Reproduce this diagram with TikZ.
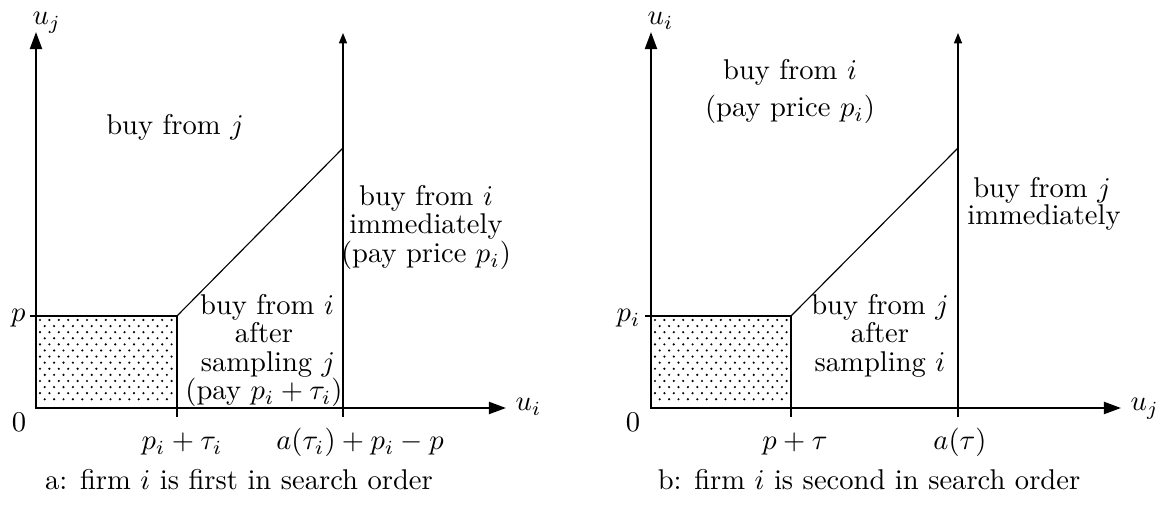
\documentclass[tikz,border=0pt]{standalone}
\usetikzlibrary{arrows.meta}
\begin{document}
\begin{tikzpicture}[x=0.35pt,y=-0.35pt,
  axis/.style={line width=0.8pt,{Triangle[length=6pt,width=4.2pt]}-{Triangle[length=6pt,width=4.2pt]}},
  lin/.style={line width=0.4pt},
  vline/.style={line width=0.4pt,-{Triangle[length=3.6pt,width=2.8pt]}},
  lbl/.style={inner sep=0pt,font=\fontsize{10}{12}\selectfont},
  dot/.style={fill=black},
]
\useasboundingbox (0,0) rectangle (1169,512);
% ---------------- panel a ----------------
\coordinate (O1) at (36,408);
\coordinate (Y1) at (36,32);
\coordinate (X1) at (506,408);
\coordinate (C1) at (177,316);
\coordinate (B1) at (177,417);
\coordinate (P1) at (30,316);
\coordinate (V1b) at (343,417);
\coordinate (V1m) at (343,148);
\coordinate (V1t) at (343,33);
\foreach \k in {0,...,6}{\foreach \c in {0,...,14}{\fill[dot] (40+9.4*\c,320+12.2*\k) circle (0.42pt);}}
\foreach \k in {0,...,6}{\foreach \c in {0,...,13}{\fill[dot] (44.7+9.4*\c,326.1+12.2*\k) circle (0.42pt);}}
\draw[lin] (P1) -- (C1) -- (B1);
\draw[lin] (C1) -- (V1m);
\draw[vline] (V1b) -- (V1t);
\draw[axis] (Y1) -- (O1) -- (X1);
\node[lbl,anchor=base west] (uj1) at (32,25) {$u_j$};
\node[lbl,anchor=base west] (ui1) at (515,411) {$u_i$};
\node[lbl,anchor=base east] (p1) at (26,322) {$p$};
\node[lbl,anchor=base] (z1) at (19,432) {$0$};
\node[lbl,anchor=base] (t1) at (182,450) {$p_i+\tau_i$};
\node[lbl,anchor=base] (t2) at (360,450) {$a(\tau_i)+p_i-p$};
\node[lbl,anchor=base] (cap1) at (239,490) {a: firm $i$ is first in search order};
\node[lbl,anchor=base] (a1) at (175,135) {buy from $j$};
\node[lbl,anchor=base] (b1) at (426,206) {buy from $i$};
\node[lbl,anchor=base] (b2) at (426,234) {immediately};
\node[lbl,anchor=base] (b3) at (426,263) {(pay price $p_i$)};
\node[lbl,anchor=base] (c1) at (267,315) {buy from $i$};
\node[lbl,anchor=base] (c2) at (264,343) {after};
\node[lbl,anchor=base] (c3) at (268,372) {sampling $j$};
\node[lbl,anchor=base] (c4) at (264,400) {(pay $p_i+\tau_i$)};
% ---------------- panel b ----------------
\coordinate (O2) at (651,408);
\coordinate (Y2) at (651,32);
\coordinate (X2) at (1121,408);
\coordinate (C2) at (791,316);
\coordinate (B2) at (791,417);
\coordinate (P2) at (645,316);
\coordinate (V2b) at (958,417);
\coordinate (V2m) at (958,148);
\coordinate (V2t) at (958,33);
\foreach \k in {0,...,6}{\foreach \c in {0,...,14}{\fill[dot] (655+9.4*\c,320+12.2*\k) circle (0.42pt);}}
\foreach \k in {0,...,6}{\foreach \c in {0,...,13}{\fill[dot] (659.7+9.4*\c,326.1+12.2*\k) circle (0.42pt);}}
\draw[lin] (P2) -- (C2) -- (B2);
\draw[lin] (C2) -- (V2m);
\draw[vline] (V2b) -- (V2t);
\draw[axis] (Y2) -- (O2) -- (X2);
\node[lbl,anchor=base west] (ui2) at (647,25) {$u_i$};
\node[lbl,anchor=base west] (uj2) at (1130,411) {$u_j$};
\node[lbl,anchor=base east] (p2) at (641,322) {$p_i$};
\node[lbl,anchor=base] (z2) at (633,432) {$0$};
\node[lbl,anchor=base] (t3) at (795,450) {$p+\tau$};
\node[lbl,anchor=base] (t4) at (960,450) {$a(\tau)$};
\node[lbl,anchor=base] (cap2) at (869,490) {b: firm $i$ is second in search order};
\node[lbl,anchor=base] (d1) at (790,80) {buy from $i$};
\node[lbl,anchor=base] (d2) at (790,117) {(pay price $p_i$)};
\node[lbl,anchor=base] (e1) at (1042,198) {buy from $j$};
\node[lbl,anchor=base] (e2) at (1044,225) {immediately};
\node[lbl,anchor=base] (f1) at (880,315) {buy from $j$};
\node[lbl,anchor=base] (f2) at (880,343) {after};
\node[lbl,anchor=base] (f3) at (880,372) {sampling $i$};
\end{tikzpicture}
\end{document}
